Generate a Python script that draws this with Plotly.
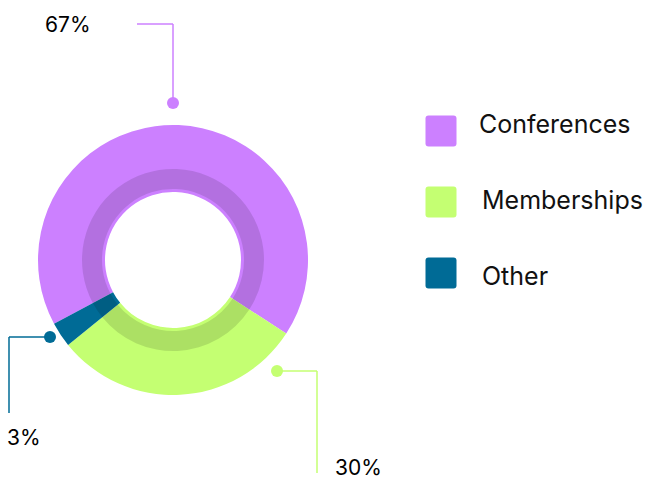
import plotly.graph_objects as go

# ---- data ----
categories = ["Conferences", "Memberships", "Other"]
values = [67, 30, 3]
labels_pct = ["67%", "30%", "3%"]
colors = ["#CC80FF", "#C4FF72", "#006B96"]

W, H = 651, 478
CX, CY = 173, 260          # pie centre in px (from top)
R_OUT, R_IN = 135, 68
R_BAND = 91
ROT = 241.8

def px_x(x):
    return x / W

def px_y(y):
    return 1 - y / H

fig = go.Figure()

# main donut
fig.add_trace(go.Pie(
    labels=categories, values=values, sort=False, direction="clockwise",
    rotation=ROT, hole=R_IN / R_OUT, textinfo="none", hoverinfo="skip",
    marker=dict(colors=colors, line=dict(width=0)),
    domain=dict(x=[px_x(CX - R_OUT), px_x(CX + R_OUT)],
                y=[px_y(CY + R_OUT), px_y(CY - R_OUT)]),
    showlegend=False,
))
# inner darker band
fig.add_trace(go.Pie(
    labels=categories, values=values, sort=False, direction="clockwise",
    rotation=ROT, hole=71 / R_BAND, textinfo="none", hoverinfo="skip",
    marker=dict(colors=["rgba(0,0,0,0.12)"] * len(values), line=dict(width=0)),
    domain=dict(x=[px_x(CX - R_BAND), px_x(CX + R_BAND)],
                y=[px_y(CY + R_BAND), px_y(CY - R_BAND)]),
    showlegend=False,
))

shapes = []
annotations = []

# callouts: dot (x,y), elbow, end, text position
callouts = [
    dict(dot=(173, 103), elbow_y=24, end_x=137, text=(68, 24), mode="up"),
    dict(dot=(277, 371), elbow_x=317, end_y=473, text=(358, 467), mode="down"),
    dict(dot=(50, 337), elbow_x=9, end_y=413, text=(24, 437), mode="down"),
]
for i, c in enumerate(callouts):
    col = colors[i]
    dx, dy = c["dot"]
    if c["mode"] == "up":
        pts = [(dx, dy), (dx, c["elbow_y"]), (c["end_x"], c["elbow_y"])]
    else:
        pts = [(dx, dy), (c["elbow_x"], dy), (c["elbow_x"], c["end_y"])]
    for (x0, y0), (x1, y1) in zip(pts[:-1], pts[1:]):
        shapes.append(dict(type="line", xref="paper", yref="paper",
                           x0=px_x(x0), y0=px_y(y0), x1=px_x(x1), y1=px_y(y1),
                           line=dict(color=col, width=1.5)))
    shapes.append(dict(type="circle", xref="paper", yref="paper",
                       xsizemode="pixel", ysizemode="pixel",
                       xanchor=px_x(dx), yanchor=px_y(dy),
                       x0=-6, x1=6, y0=-6, y1=6,
                       fillcolor=col, line=dict(width=0)))
    tx, ty = c["text"]
    annotations.append(dict(x=px_x(tx), y=px_y(ty), xref="paper", yref="paper",
                            text=labels_pct[i], showarrow=False, height=22,
                            xanchor="center", yanchor="middle",
                            font=dict(size=21, color="#000000", family="Inter")))

# legend
leg_y = [131, 202, 273]
leg_text_y = [124, 200, 276]
leg_text_x = [477, 480, 480]
h, r = 15.5, 3
sq_path = (f"M {-h+r},{-h} L {h-r},{-h} Q {h},{-h} {h},{-h+r} L {h},{h-r} Q {h},{h} {h-r},{h} "
           f"L {-h+r},{h} Q {-h},{h} {-h},{h-r} L {-h},{-h+r} Q {-h},{-h} {-h+r},{-h} Z")
for i, cat in enumerate(categories):
    shapes.append(dict(type="path", xref="paper", yref="paper",
                       xsizemode="pixel", ysizemode="pixel",
                       xanchor=px_x(441), yanchor=px_y(leg_y[i]),
                       path=sq_path, fillcolor=colors[i], line=dict(width=0)))
    annotations.append(dict(x=px_x(leg_text_x[i]), y=px_y(leg_text_y[i]), xref="paper", yref="paper",
                            text=cat, showarrow=False, xanchor="left", yanchor="middle",
                            font=dict(size=25, color="#111111", family="Inter")))

fig.update_layout(
    width=W, height=H, margin=dict(l=0, r=0, t=0, b=0),
    paper_bgcolor="white", plot_bgcolor="white",
    shapes=shapes, annotations=annotations, hovermode=False,
)

fig.write_html("out.html", config={"displayModeBar": False},
               post_script="document.body.style.margin='0';document.body.style.overflow='hidden';")
